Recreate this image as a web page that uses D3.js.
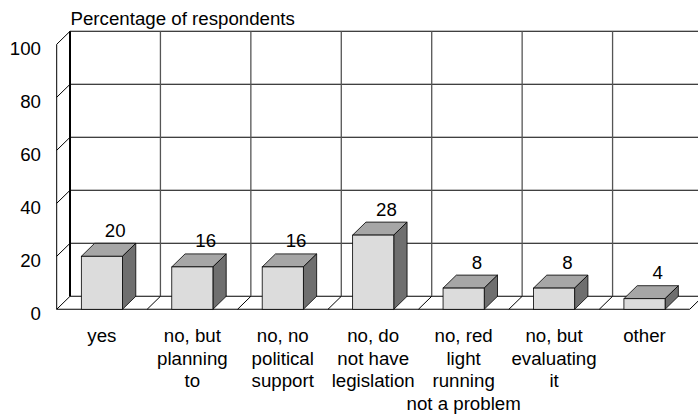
<!DOCTYPE html>
<html>
<head>
<meta charset="utf-8">
<script src="https://cdn.jsdelivr.net/npm/d3@7"></script>
<style>
  body { margin: 0; background: #fff; }
  svg { display: block; }
  text { font-family: "Liberation Sans", Arial, sans-serif; fill: #000; }
</style>
</head>
<body>
<svg id="chart" width="698" height="415"></svg>
<script>
// data
var categories = ["yes", "no, but planning to", "no, no political support",
    "no, do not have legislation", "no, red light running not a problem",
    "no, but evaluating it", "other"];
var labelLines = [
    ["yes"],
    ["no, but", "planning", "to"],
    ["no, no", "political", "support"],
    ["no, do", "not have", "legislation"],
    ["no, red", "light", "running", "not a problem"],
    ["no, but", "evaluating", "it"],
    ["other"]
];
var values = [20, 16, 16, 28, 8, 8, 4];
var yTicks = [0, 20, 40, 60, 80, 100];
var yTitle = "Percentage of respondents";

var svg = d3.select("#chart");
var fs = "18.7px";

// depth offset of the 3d box
var dx = 13.3, dy = 13;

var x = d3.scaleBand()
    .domain(categories)
    .range([56.7, 689.7])
    .padding(0);
var y = d3.scaleLinear()
    .domain([0, 100])
    .range([309.3, 44.3]);

var x0 = x.range()[0], x1 = x.range()[1];
var bw = x.bandwidth();
var barW = bw * 0.455;

var g = svg.append("g");

// left side wall
g.append("line")
    .attr("x1", x0).attr("x2", x0)
    .attr("y1", y(100)).attr("y2", y(0))
    .attr("stroke", "#000").attr("stroke-width", 1);
g.selectAll(".diag").data(yTicks).enter().append("line")
    .attr("x1", x0).attr("y1", d => y(d))
    .attr("x2", x0 + dx).attr("y2", d => y(d) - dy)
    .attr("stroke", "#000").attr("stroke-width", 1);

// back wall horizontal gridlines
g.selectAll(".hgrid").data(yTicks).enter().append("line")
    .attr("x1", x0 + dx).attr("x2", x1 + dx)
    .attr("y1", d => y(d) - dy).attr("y2", d => y(d) - dy)
    .attr("stroke", "#000").attr("stroke-width", 1.1);

// back wall vertical gridlines
g.selectAll(".vgrid").data(categories.slice(1)).enter().append("line")
    .attr("x1", d => x(d) + dx).attr("x2", d => x(d) + dx)
    .attr("y1", y(100) - dy).attr("y2", y(0) - dy)
    .attr("stroke", "#555").attr("stroke-width", 1.3);

// back left edge, thicker
g.append("line")
    .attr("x1", x0 + dx).attr("x2", x0 + dx)
    .attr("y1", y(100) - dy).attr("y2", y(0) - dy)
    .attr("stroke", "#000").attr("stroke-width", 2);

// floor
g.append("line")
    .attr("x1", x0).attr("x2", x1)
    .attr("y1", y(0)).attr("y2", y(0))
    .attr("stroke", "#000").attr("stroke-width", 1.1);
g.selectAll(".fdiag").data(categories.slice(1).map(c => x(c)).concat([x1])).enter().append("line")
    .attr("x1", d => d).attr("y1", y(0))
    .attr("x2", d => d + dx).attr("y2", y(0) - dy)
    .attr("stroke", "#000").attr("stroke-width", 1);

// bars
var bars = g.selectAll(".bar").data(values).enter().append("g");
bars.append("path")  // top
    .attr("d", (d, i) => {
        var bx = x(categories[i]) + (bw - barW) / 2, by = y(d);
        return "M" + bx + "," + by + "L" + (bx + dx) + "," + (by - dy) +
            "L" + (bx + barW + dx) + "," + (by - dy) + "L" + (bx + barW) + "," + by + "Z";
    })
    .attr("fill", "#a6a6a6").attr("stroke", "#000").attr("stroke-width", 0.8);
bars.append("path")  // side
    .attr("d", (d, i) => {
        var bx = x(categories[i]) + (bw - barW) / 2 + barW, by = y(d);
        return "M" + bx + "," + by + "L" + (bx + dx) + "," + (by - dy) +
            "L" + (bx + dx) + "," + (y(0) - dy) + "L" + bx + "," + y(0) + "Z";
    })
    .attr("fill", "#6f6f6f").attr("stroke", "#000").attr("stroke-width", 0.8);
bars.append("rect")  // front
    .attr("x", (d, i) => x(categories[i]) + (bw - barW) / 2)
    .attr("y", d => y(d))
    .attr("width", barW)
    .attr("height", d => y(0) - y(d))
    .attr("fill", "#dcdcdc").attr("stroke", "#000").attr("stroke-width", 0.8);

// value labels
bars.append("text")
    .attr("x", (d, i) => x(categories[i]) + bw / 2 + dx)
    .attr("y", d => y(d) - dy - 6.5)
    .attr("text-anchor", "middle")
    .style("font-size", fs)
    .text(d => d);

// y axis labels
var yAxis = svg.append("g")
    .attr("transform", "translate(44,4)")
    .call(d3.axisLeft(y).tickValues(yTicks).tickSize(0).tickPadding(3));
yAxis.select(".domain").remove();
yAxis.selectAll("text")
    .attr("fill", "#000")
    .style("font-family", "Liberation Sans, Arial, sans-serif")
    .style("font-size", fs);

// axis title
svg.append("text")
    .attr("x", 70.5).attr("y", 25)
    .style("font-size", fs)
    .text(yTitle);

// category labels
var cl = svg.selectAll(".cat").data(labelLines).enter().append("text")
    .attr("text-anchor", "middle")
    .style("font-size", fs);
cl.selectAll("tspan").data((d, i) => d.map(s => ({ s: s, c: categories[i] }))).enter().append("tspan")
    .attr("x", d => x(d.c) + bw / 2)
    .attr("y", (d, j) => 342 + j * 22.6)
    .text(d => d.s);
</script>
</body>
</html>
